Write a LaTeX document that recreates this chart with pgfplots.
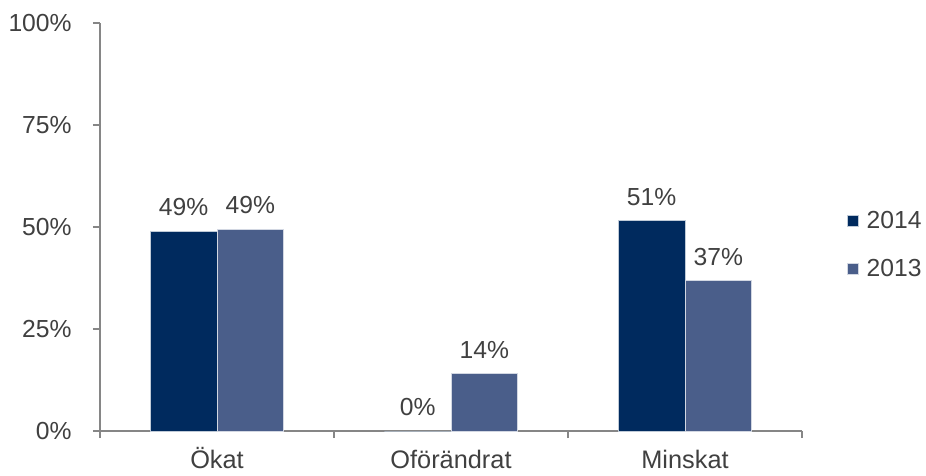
\documentclass[border=0pt]{standalone}
\usepackage{pgfplots}
\pgfplotsset{compat=1.18}
\usepackage{fontspec}
\setmainfont{Liberation Sans}
\definecolor{c2014}{RGB}{0,42,94}
\definecolor{c2013}{RGB}{74,94,138}
\definecolor{axgray}{RGB}{134,134,134}
\definecolor{txt}{RGB}{64,64,64}
\newcommand{\lbl}{\fontsize{18.5}{21}\selectfont}
\begin{document}
\begin{tikzpicture}
\begin{axis}[
  scale only axis,
  width=526.5pt, height=306pt,
  ybar=0pt, bar width=50pt,
  ymin=0, ymax=100,
  xmin=-0.5, xmax=2.5,
  axis lines=left,
  axis line style={draw=axgray, line width=1pt, -},
  tick style={draw=axgray, line width=1pt},
  tick align=outside,
  major tick length=5.25pt,
  ytick={0,25,50,75,100},
  yticklabels={0\%,25\%,50\%,75\%,100\%},
  xtick={-0.5,0.5,1.5,2.5},
  xticklabels={},
  extra x ticks={0,1,2},
  extra x tick labels={Ökat,Oförändrat,Minskat},
  extra x tick style={tick style={draw=none}},
  ticklabel style={font=\lbl, text=txt},
  yticklabel style={xshift=-12.5pt},
  xticklabel style={font=\fontsize{19}{21}\selectfont, text height=17pt, text depth=0pt, yshift=-2.5pt},
  point meta=explicit symbolic,
  nodes near coords,
  nodes near coords style={font=\lbl, text=txt, yshift=7.5pt},
  legend style={draw=none, fill=none, at={(1.064,0.456)}, anchor=west,
    font=\lbl, text=txt, row sep=17.5pt, inner sep=0pt},
  legend image code/.code={\fill[#1] (0pt,-4.1pt) rectangle (8.25pt,4.1pt);
    \path (12pt,0pt);},
  legend cell align=left,
]
\addplot[fill=c2014, draw=white!75!c2014, line width=0.6pt] coordinates {
  (0,49.0) [49\%]
  (1,0) [0\%]
  (2,51.5) [51\%]
};
\addplot[fill=c2013, draw=white!75!c2013, line width=0.6pt] coordinates {
  (0,49.5) [49\%]
  (1,14.2) [14\%]
  (2,36.8) [37\%]
};
\legend{2014,2013}
\end{axis}
\pgfresetboundingbox
\path (current axis.south west) ++(-75pt,-33pt) coordinate (bbsw);
\path (current axis.north east) ++(93pt,17.25pt) coordinate (bbne);
\useasboundingbox (bbsw) rectangle (bbne);
\end{tikzpicture}
\end{document}
